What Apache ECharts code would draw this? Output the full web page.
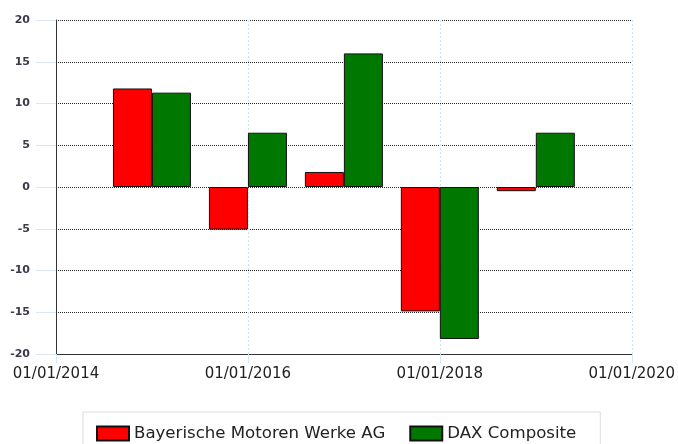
<!DOCTYPE html>
<html>
<head>
<meta charset="utf-8">
<script src="https://cdn.jsdelivr.net/npm/echarts@6/dist/echarts.min.js"></script>
<style>
  html, body { margin: 0; padding: 0; background: #fff; }
  #chart { width: 678px; height: 444px; }
</style>
</head>
<body>
<div id="chart"></div>
<script>
// years (bars sit on 1 January of each year)
var years = [2015, 2016, 2017, 2018, 2019]
var bmwValues = [11.8, -5.1, 1.8, -14.9, -0.5]
var daxValues = [11.3, 6.5, 16.0, -18.2, 6.5]
var seriesNames = ["Bayerische Motoren Werke AG", "DAX Composite"]
var xTicks = [2014, 2016, 2018, 2020]
var yTicks = [-20, -15, -10, -5, 0, 5, 10, 15, 20]

function pairs(vals) {
    return years.map(function (y, i) { return [y, vals[i]] })
}

var chart = echarts.init(document.getElementById("chart"))
var option = {
    animation: false,
    grid: { left: 56, right: 41, top: 20, bottom: 90 },
    legend: {
        left: 83,
        top: 412,
        padding: [13, 24, 13, 13],
        itemWidth: 32,
        itemHeight: 14,
        itemGap: 24,
        icon: "rect",
        borderColor: "#dcdcdc",
        borderWidth: 1,
        backgroundColor: "#fff",
        textStyle: { fontFamily: "DejaVu Sans", fontSize: 16.6, color: "#222" },
        data: seriesNames
    },
    xAxis: {
        type: "value",
        min: xTicks[0],
        max: xTicks[xTicks.length - 1],
        interval: 2,
        axisLine: { show: true, onZero: false, lineStyle: { color: "#333", width: 1 } },
        axisTick: { show: true, length: 9, lineStyle: { color: "#d8e6f6" } },
        axisLabel: {
            margin: 13,
            fontFamily: "DejaVu Sans",
            fontSize: 15,
            color: "#222",
            formatter: function (v) { return "01/01/" + v }
        },
        splitLine: { show: true, lineStyle: { color: "#cfe0f4", type: [2, 2] } }
    },
    yAxis: {
        type: "value",
        min: yTicks[0],
        max: yTicks[yTicks.length - 1],
        interval: 5,
        axisLine: { show: true, lineStyle: { color: "#333", width: 1 } },
        axisTick: { show: true, length: 20, lineStyle: { color: "#d8e6f6" } },
        axisLabel: {
            margin: 26,
            fontFamily: "DejaVu Sans",
            fontWeight: "bold",
            fontSize: 11,
            color: "#3a3a4a"
        },
        splitLine: { show: true, lineStyle: { color: "#222", type: [1, 1] } }
    },
    series: [
        {
            name: seriesNames[0],
            type: "bar",
            data: pairs(bmwValues),
            barWidth: 39,
            barGap: "0%",
            itemStyle: { color: "#ff0000", borderColor: "#111", borderWidth: 1 }
        },
        {
            name: seriesNames[1],
            type: "bar",
            data: pairs(daxValues),
            barWidth: 39,
            barGap: "0%",
            itemStyle: { color: "#007800", borderColor: "#111", borderWidth: 1 }
        }
    ]
}
chart.setOption(option)
</script>
</body>
</html>
